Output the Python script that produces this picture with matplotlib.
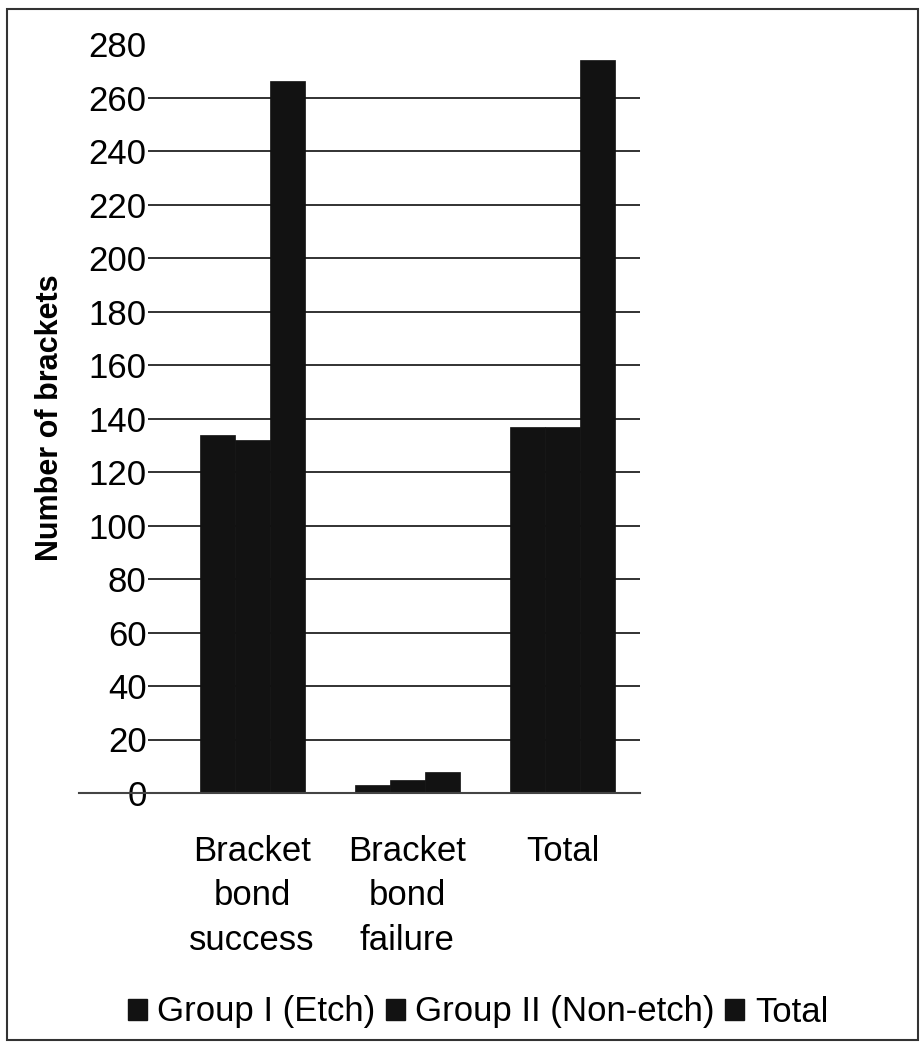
import matplotlib.pyplot as plt
from matplotlib.patches import Rectangle, Patch
import numpy as np

plt.rcParams['font.family'] = ['Liberation Sans', 'DejaVu Sans']

# values
categories = ['Bracket\nbond\nsuccess', 'Bracket\nbond\nfailure', 'Total']
group1 = [134, 3, 137]
group2 = [132, 5, 137]
total = [266, 8, 274]
series_names = ['Group I (Etch)', 'Group II (Non-etch)', 'Total']
y_ticks = list(range(0, 281, 20))

W, H = 921, 1042
fig = plt.figure(figsize=(W / 100, H / 100), dpi=100)
ax = fig.add_axes([148 / W, 1 - 793 / H, (640 - 148) / W, (793 - 44) / H])

x = np.arange(len(categories))
bw = 0.226
bar_color = '#121212'
for i, vals in enumerate([group1, group2, total]):
    ax.bar(x + (i - 1) * bw, vals, width=bw, color=bar_color, zorder=3,
           edgecolor=bar_color, linewidth=0.5)

ax.set_xlim(-0.672, 2.50)
ax.set_ylim(0, 280)
ax.set_yticks(y_ticks)
ax.set_xticks(x)
ax.set_xticklabels(categories, fontsize=25, linespacing=1.45)
ax.tick_params(axis='x', length=0, pad=30)
ax.tick_params(axis='y', length=0, pad=1, labelsize=25)
ax.yaxis.grid(True, color='#222222', linewidth=1.3, zorder=0)
# the top value has no gridline in the original
ax.get_ygridlines()[-1].set_visible(False)
for s in ax.spines.values():
    s.set_visible(False)
# baseline reaches further left, as in the original
ax.axhline(0, xmin=-0.14, xmax=1.0, color='#444444', linewidth=1.5,
           clip_on=False, zorder=4)

fig.text(50 / W, 1 - 418 / H, 'Number of brackets', rotation=90,
         fontsize=22, fontweight='bold', ha='center', va='center')

handles = [Patch(facecolor=bar_color, edgecolor=bar_color) for _ in series_names]
fig.legend(handles, series_names, loc='center', ncol=3, frameon=False,
           bbox_to_anchor=(478 / W, 1 - 1012 / H), fontsize=25,
           handlelength=0.55, handleheight=0.55, handletextpad=0.3,
           columnspacing=0.3)

fig.add_artist(Rectangle((7 / W, 1 - 1040 / H), (918 - 7) / W, (1040 - 9) / H,
                         transform=fig.transFigure, fill=False,
                         edgecolor='#333333', linewidth=1.5))

fig.savefig('out.png', dpi=100)
